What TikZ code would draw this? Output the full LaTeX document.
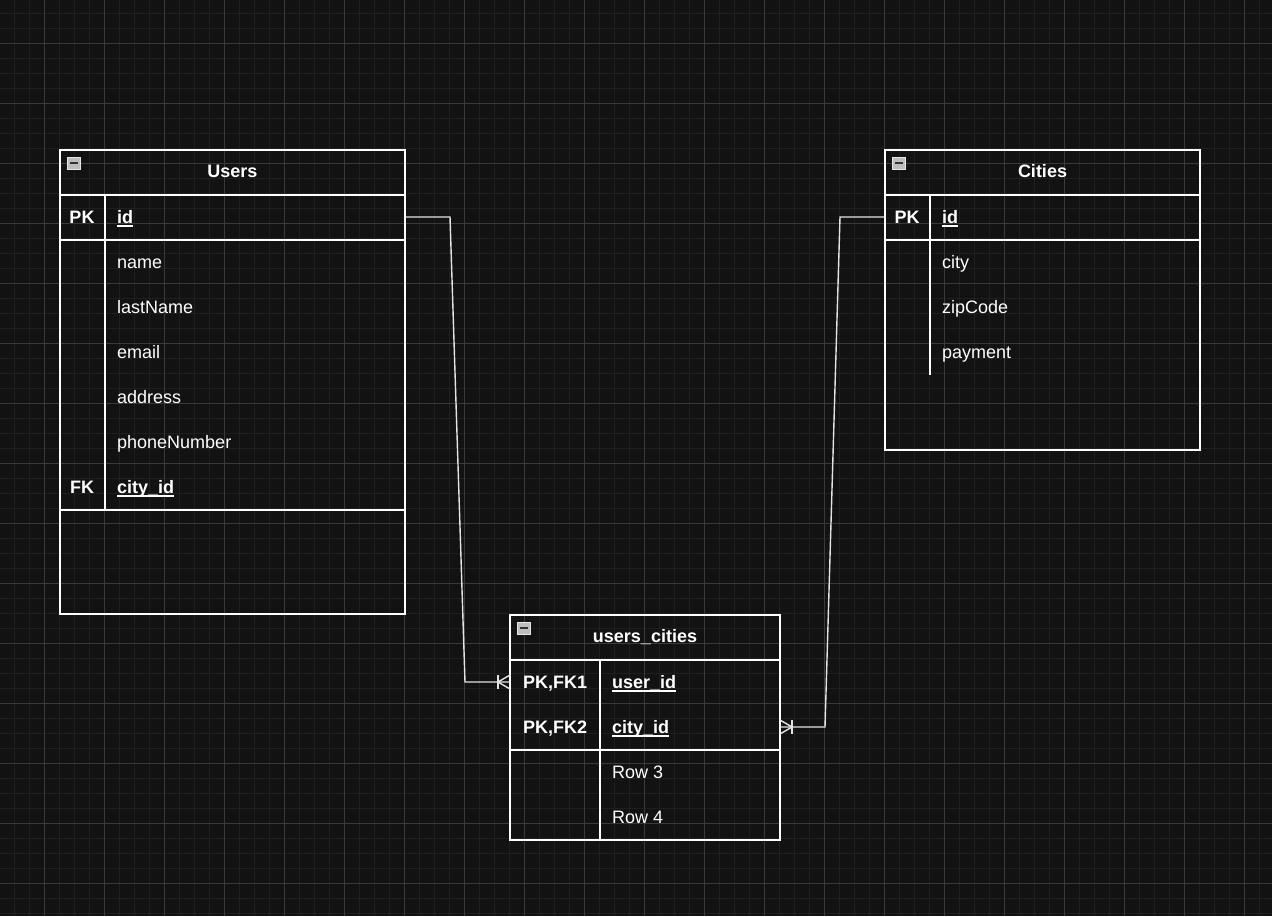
\documentclass[tikz,border=0pt]{standalone}
\usepackage{fontspec}
\setmainfont{Liberation Sans}
\definecolor{bg}{HTML}{121212}
\definecolor{gridminor}{HTML}{1F1F1F}
\definecolor{gridmajor}{HTML}{3A3A3A}
\definecolor{iconfill}{HTML}{BDBDBD}
\definecolor{iconedge}{HTML}{E6E6E6}
\definecolor{conncol}{HTML}{E4E4E4}
% bold underlined key column
\newcommand\keyfield[1]{\setbox0\hbox{\bfseries #1}\rlap{\rule[-3pt]{\wd0}{1.6pt}}\box0}
\begin{document}
\begin{tikzpicture}[x=1pt,y=-1pt,
  tbl/.style={draw=white,line width=1.3pt,inner sep=0pt},
  sep/.style={draw=white,line width=1.3pt},
  txt/.style={text=white,font=\fontsize{18}{22}\selectfont,inner sep=0pt,text height=11pt,text depth=0pt},
  head/.style={txt,font=\fontsize{18}{22}\selectfont\bfseries},
  fld/.style={txt,anchor=west,text height=13pt},
  key/.style={txt,font=\fontsize{18}{22}\selectfont\bfseries,text height=13pt},
  icon/.style={draw=iconedge,fill=iconfill,line width=0.8pt,minimum width=13pt,minimum height=12pt,inner sep=0pt,
    path picture={\draw[black!80,line width=1.6pt] ([xshift=2.5pt]path picture bounding box.west) -- ([xshift=-2.5pt]path picture bounding box.east);}},
  conn/.style={draw=conncol,line width=1.4pt}]
% canvas and grid
\fill[bg] (0,0) rectangle (1272,916);
\useasboundingbox (0,0) rectangle (1272,916);
\clip (0,0) rectangle (1272,916);
\foreach \i in {0,...,84} {\draw[gridminor,line width=1pt] (14.3+15*\i,0) -- ++(0,916);}
\foreach \i in {0,...,60} {\draw[gridminor,line width=1pt] (0,13.3+15*\i) -- ++(1272,0);}
\foreach \i in {0,...,20} {\draw[gridmajor,line width=1pt] (44.3+60*\i,0) -- ++(0,916);}
\foreach \i in {0,...,14} {\draw[gridmajor,line width=1pt] (0,43.3+60*\i) -- ++(1272,0);}

% ---- Users ----
\node[tbl,minimum width=345pt,minimum height=464pt] (users) at (232.5,382) {};
\draw[sep] (60,195) -- (405,195);
\draw[sep] (60,240) -- (405,240);
\draw[sep] (60,510) -- (405,510);
\draw[sep] (105,195) -- (105,510);
\node[icon] (usersicon) at (74,163) {};
\node[head] (usersname) at (232.5,172) {Users};
\node[key] (usersk1) at (82,217) {PK};
\node[fld] (usersf1) at (117,217) {\keyfield{id}};
\node[fld] (usersf2) at (117,262) {name};
\node[fld] (usersf3) at (117,307) {lastName};
\node[fld] (usersf4) at (117,352) {email};
\node[fld] (usersf5) at (117,397) {address};
\node[fld] (usersf6) at (117,442) {phoneNumber};
\node[key] (usersk7) at (82,487) {FK};
\node[fld] (usersf7) at (117,487) {\keyfield{city\_id}};

% ---- Cities ----
\node[tbl,minimum width=315pt,minimum height=300pt] (cities) at (1042.5,300) {};
\draw[sep] (885,195) -- (1200,195);
\draw[sep] (885,240) -- (1200,240);
\draw[sep] (930,195) -- (930,375);
\node[icon] (citiesicon) at (899,163) {};
\node[head] (citiesname) at (1042.5,172) {Cities};
\node[key] (citiesk1) at (907,217) {PK};
\node[fld] (citiesf1) at (942,217) {\keyfield{id}};
\node[fld] (citiesf2) at (942,262) {city};
\node[fld] (citiesf3) at (942,307) {zipCode};
\node[fld] (citiesf4) at (942,352) {payment};

% ---- users_cities ----
\node[tbl,minimum width=270pt,minimum height=225pt] (uc) at (645,727.5) {};
\draw[sep] (510,660) -- (780,660);
\draw[sep] (510,750) -- (780,750);
\draw[sep] (600,660) -- (600,840);
\node[icon] (ucicon) at (524,628) {};
\node[head] (ucname) at (645,637) {users\_cities};
\node[key] (uck1) at (555,682) {PK,FK1};
\node[fld] (ucf1) at (612,682) {\keyfield{user\_id}};
\node[key] (uck2) at (555,727) {PK,FK2};
\node[fld] (ucf2) at (612,727) {\keyfield{city\_id}};
\node[fld] (ucf3) at (612,772) {Row 3};
\node[fld] (ucf4) at (612,817) {Row 4};

% ---- relationships ----
\coordinate (uid) at (405,217);
\coordinate (ucu) at (510,682);
\coordinate (cid) at (885,217);
\coordinate (ucc) at (780,727);
\draw[conn] (uid) -- (450,217) -- (465,682) -- (ucu);
\draw[conn] (ucu) ++(-12,0) -- ++(12,-7) ++(-12,7) -- ++(12,7);
\draw[conn] (ucu) ++(-12,-7) -- ++(0,14);
\draw[conn] (cid) -- (840,217) -- (825,727) -- (ucc);
\draw[conn] (ucc) ++(12,0) -- ++(-12,-7) ++(12,7) -- ++(-12,7);
\draw[conn] (ucc) ++(12,-7) -- ++(0,14);
\end{tikzpicture}
\end{document}
